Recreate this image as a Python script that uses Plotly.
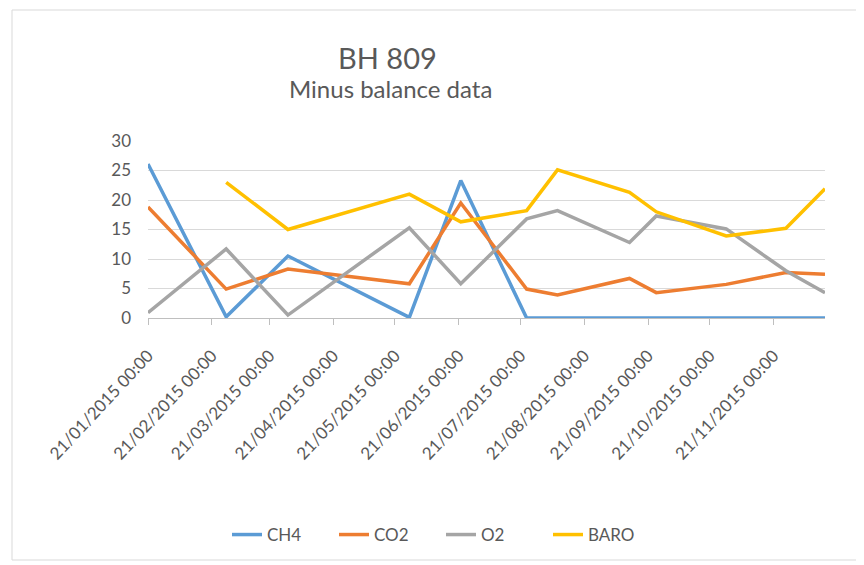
import plotly.graph_objects as go

# sample dates (irregular, as logged)
dates = [
    "2015-01-21", "2015-02-28", "2015-03-30", "2015-05-28", "2015-06-22",
    "2015-07-24", "2015-08-08", "2015-09-12", "2015-09-25", "2015-10-29",
    "2015-11-27", "2015-12-16",
]
ch4 = [26.1, 0.2, 10.5, 0.1, 23.3, 0.0, 0.0, 0.0, 0.0, 0.0, 0.0, 0.0]
co2 = [18.8, 4.9, 8.3, 5.8, 19.5, 4.9, 3.9, 6.7, 4.3, 5.7, 7.7, 7.4]
o2 = [0.9, 11.7, 0.5, 15.3, 5.8, 16.8, 18.2, 12.8, 17.3, 15.1, 8.0, 4.3]
baro = [None, 23.0, 15.0, 21.0, 16.3, 18.2, 25.1, 21.3, 18.0, 13.9, 15.2, 21.9]

tick_dates = [f"2015-{m:02d}-21" for m in range(1, 12)]
tick_text = [f"21/{m:02d}/2015 00:00" for m in range(1, 12)]
y_ticks = [0, 5, 10, 15, 20, 25, 30]

series = [
    ("CH4", ch4, "#5b9bd5"),
    ("CO2", co2, "#ed7d31"),
    ("O2", o2, "#a5a5a5"),
    ("BARO", baro, "#ffc000"),
]

fig = go.Figure()
for name, vals, color in series:
    fig.add_trace(
        go.Scatter(
            x=dates, y=vals, name=name, mode="lines",
            line=dict(color=color, width=3.5),
            connectgaps=False,
        )
    )

txt = "#595959"
font = "Lato, Open Sans, sans-serif"

# plot area is 677 x 177 px; paper fractions below are relative to it
fig.update_layout(
    width=864,
    height=565,
    margin=dict(l=140, r=47, t=133, b=255),
    paper_bgcolor="white",
    plot_bgcolor="white",
    font=dict(family=font, color=txt, size=16),
    showlegend=True,
    legend=dict(
        orientation="h", x=(441 - 148) / 677, xanchor="center",
        y=-1.226, yanchor="middle",
        font=dict(size=17, color=txt), entrywidth=62, entrywidthmode="pixels",
    ),
    annotations=[
        dict(text="BH 809", x=(387 - 148) / 677, y=1.469, xref="paper", yref="paper",
             showarrow=False, font=dict(size=29, color=txt), xanchor="center", yanchor="middle"),
        dict(text="Minus balance data", x=(390 - 148) / 677, y=1.299, xref="paper", yref="paper",
             showarrow=False, font=dict(size=24, color=txt), xanchor="center", yanchor="middle"),
    ],
    shapes=[
        dict(type="rect", xref="paper", yref="paper",
             x0=(12 - 148) / 677, x1=(870 - 148) / 677,
             y0=1 - (560 - 141) / 177, y1=1 - (10 - 141) / 177,
             line=dict(color="#d9d9d9", width=1)),
    ],
)

fig.update_xaxes(
    type="date",
    range=["2015-01-21", "2015-12-16"],
    tickvals=tick_dates,
    ticktext=tick_text,
    tickangle=-47,
    tickfont=dict(size=17, color=txt),
    ticklabelstandoff=14,
    showgrid=False,
    showline=True,
    linecolor="#bfbfbf",
    linewidth=1,
    ticks="outside",
    ticklen=6,
    tickcolor="#bfbfbf",
    zeroline=False,
)
fig.update_yaxes(
    range=[0, 30],
    tickvals=y_ticks,
    tickfont=dict(size=17, color=txt),
    showgrid=True,
    gridcolor="#d9d9d9",
    gridwidth=1,
    showline=False,
    zeroline=False,
    ticks="",
    ticklabelstandoff=16,
)

fig.write_html("out.html")
